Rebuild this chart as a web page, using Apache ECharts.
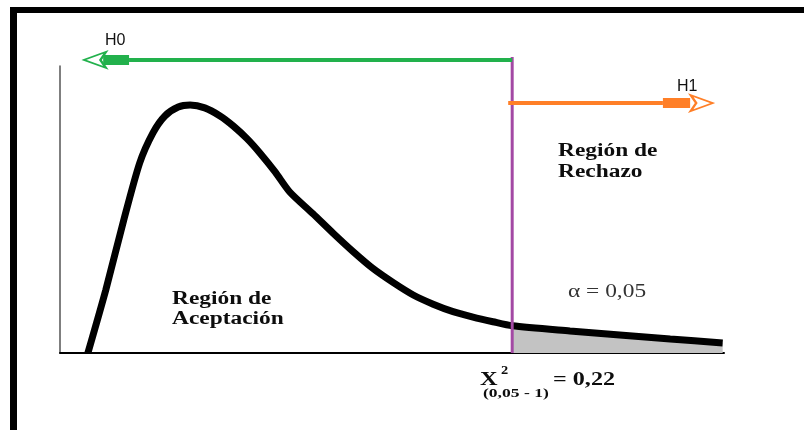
<!DOCTYPE html>
<html>
<head>
<meta charset="utf-8">
<script src="https://cdn.jsdelivr.net/npm/echarts@6/dist/echarts.min.js"></script>
<style>
  html, body { margin: 0; padding: 0; background: #fff; }
  #chart { width: 804px; height: 430px; }
</style>
</head>
<body>
<div id="chart"></div>
<script>
// curva de densidad
var curveX = [0.42, 0.69, 0.96, 1.20, 1.40, 1.58, 1.78, 1.96, 2.18, 2.41, 2.61, 2.82, 3.01, 3.24, 3.46, 3.81, 4.11, 4.41, 4.71, 5.02, 5.32, 5.62, 5.92, 6.22, 6.52, 6.81, 7.68, 8.43, 9.19, 9.98];
var curveY = [0, 0.220, 0.463, 0.662, 0.767, 0.826, 0.857, 0.864, 0.854, 0.826, 0.791, 0.746, 0.697, 0.631, 0.561, 0.485, 0.418, 0.354, 0.295, 0.245, 0.202, 0.170, 0.144, 0.125, 0.109, 0.095, 0.077, 0.063, 0.049, 0.035];

// valor crítico y flechas de hipótesis
var criticalX = 6.81;
var criticalY = [0, 1.031];
var h0Y = 1.021;
var h0LineX = [6.81, 1.04];
var h0ThickX = [1.04, 0.65];
var h0TipX = 0.36;
var h1Y = 0.871;
var h1LineX = [6.75, 9.08];
var h1ThickX = [9.08, 9.49];
var h1TipX = 9.83;

var curveData = curveX.map(function (x, i) { return [x, curveY[i]]; });
var tailData = curveData.filter(function (p) { return p[0] >= criticalX; });

function hLine(xs, y) {
    return xs.map(function (x) { return [x, y]; });
}

var myChart = echarts.init(document.getElementById('chart'));

var serifBold = 'bold 18px "Liberation Serif", "Times New Roman", serif';

var option = {
    animation: false,
    backgroundColor: '#fff',
    grid: { left: 60, right: 80, top: 66, bottom: 77 },
    xAxis: {
        type: 'value', min: 0, max: 10,
        axisLine: { show: true, lineStyle: { color: '#000', width: 2 } },
        axisTick: { show: false }, axisLabel: { show: false }, splitLine: { show: false }
    },
    yAxis: {
        type: 'value', min: 0, max: 1,
        axisLine: { show: true, lineStyle: { color: '#555', width: 1.5 } },
        axisTick: { show: false }, axisLabel: { show: false }, splitLine: { show: false }
    },
    series: [
        {
            type: 'line', data: tailData, smooth: 0.25, symbol: 'none', z: 1,
            lineStyle: { width: 0 },
            areaStyle: { color: '#c3c3c3', opacity: 1 }
        },
        {
            type: 'line', data: curveData, smooth: 0.25, symbol: 'none', z: 3,
            lineStyle: { color: '#000', width: 7 }
        },
        {
            type: 'line', data: criticalY.map(function (y) { return [criticalX, y]; }),
            symbol: 'none', clip: false, z: 4,
            lineStyle: { color: '#a349a4', width: 3 }
        },
        {
            type: 'line', data: hLine(h0LineX, h0Y), symbol: 'none', clip: false, z: 5,
            lineStyle: { color: '#22b14c', width: 4 }
        },
        {
            type: 'line', data: hLine(h0ThickX, h0Y), symbol: 'none', clip: false, z: 5,
            lineStyle: { color: '#22b14c', width: 10, cap: 'butt' }
        },
        {
            type: 'line', data: hLine(h1LineX, h1Y), symbol: 'none', clip: false, z: 5,
            lineStyle: { color: '#ff7f27', width: 4 }
        },
        {
            type: 'line', data: hLine(h1ThickX, h1Y), symbol: 'none', clip: false, z: 5,
            lineStyle: { color: '#ff7f27', width: 10, cap: 'butt' }
        },
        {
            type: 'scatter', clip: false, z: 6,
            symbol: 'emptyArrow', symbolSize: [12, 22],
            data: [
                { value: [h0TipX, h0Y], symbolRotate: 90, itemStyle: { color: '#22b14c', borderColor: '#22b14c', borderWidth: 3, opacity: 1 } },
                { value: [h1TipX, h1Y], symbolRotate: -90, itemStyle: { color: '#ff7f27', borderColor: '#ff7f27', borderWidth: 3, opacity: 1 } }
            ]
        }
    ],
    graphic: [
        // marco negro
        { type: 'rect', left: 10, top: 7, shape: { width: 794, height: 6 }, style: { fill: '#000' } },
        { type: 'rect', left: 10, top: 7, shape: { width: 7, height: 423 }, style: { fill: '#000' } },
        // etiquetas
        { type: 'text', x: 105, y: 41, style: { text: 'H0', font: '16px "Liberation Sans", Arial, sans-serif', fill: '#111', verticalAlign: 'middle' } },
        { type: 'text', x: 677, y: 87, style: { text: 'H1', font: '16px "Liberation Sans", Arial, sans-serif', fill: '#111', verticalAlign: 'middle' } },
        { type: 'text', x: 558, y: 162, scaleX: 1.3, style: { text: 'Región de\nRechazo', font: serifBold, lineHeight: 21, fill: '#0d0d0d', verticalAlign: 'middle' } },
        { type: 'text', x: 172, y: 309, scaleX: 1.3, style: { text: 'Región de\nAceptación', font: serifBold, lineHeight: 20, fill: '#0d0d0d', verticalAlign: 'middle' } },
        { type: 'text', x: 568, y: 292, scaleX: 1.3, style: { text: 'α = 0,05', font: '18px "Liberation Serif", "Times New Roman", serif', fill: '#333', verticalAlign: 'middle' } },
        { type: 'text', x: 480, y: 380, scaleX: 1.28, style: { text: 'X', font: 'bold 19px "Liberation Serif", serif', fill: '#0d0d0d', verticalAlign: 'middle' } },
        { type: 'text', x: 501, y: 371, scaleX: 1.2, style: { text: '2', font: 'bold 12px "Liberation Serif", serif', fill: '#0d0d0d', verticalAlign: 'middle' } },
        { type: 'text', x: 483, y: 394, scaleX: 1.35, style: { text: '(0,05 - 1)', font: 'bold 13px "Liberation Serif", serif', fill: '#0d0d0d', verticalAlign: 'middle' } },
        { type: 'text', x: 553, y: 380, scaleX: 1.27, style: { text: '= 0,22', font: 'bold 19px "Liberation Serif", serif', fill: '#0d0d0d', verticalAlign: 'middle' } }
    ]
};

myChart.setOption(option);

window.onresize = function () {
    myChart.resize();
};
</script>
</body>
</html>
